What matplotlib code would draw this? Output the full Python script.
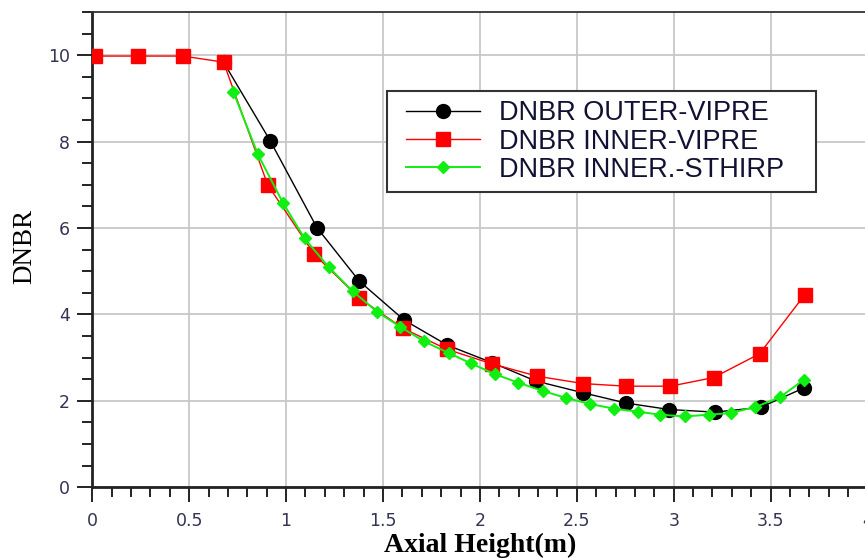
import matplotlib
matplotlib.use('Agg')
from matplotlib import pyplot as plt
from matplotlib.ticker import MultipleLocator
from matplotlib.lines import Line2D
from matplotlib.legend_handler import HandlerLine2D

# DNBR along the axial height
outer_x = [0.677, 0.918, 1.159, 1.378, 1.609, 1.832, 2.065,
           2.288, 2.530, 2.754, 2.977, 3.213, 3.448, 3.672]
outer_y = [9.84, 8.02, 6.01, 4.77, 3.87, 3.29, 2.88,
           2.46, 2.19, 1.95, 1.80, 1.74, 1.85, 2.30]

inner_x = [0.016, 0.234, 0.467, 0.677, 0.905, 1.146, 1.377, 1.603, 1.832, 2.060,
           2.297, 2.534, 2.754, 2.983, 3.206, 3.443, 3.675]
inner_y = [9.98, 9.98, 9.98, 9.84, 7.00, 5.39, 4.38, 3.68, 3.19, 2.86,
           2.57, 2.40, 2.34, 2.34, 2.54, 3.09, 4.45]

sthirp_x = [0.728, 0.854, 0.983, 1.095, 1.219, 1.343, 1.470, 1.587, 1.711, 1.838,
            1.953, 2.076, 2.199, 2.325, 2.443, 2.566, 2.692, 2.815, 2.931, 3.057,
            3.180, 3.295, 3.422, 3.547, 3.672]
sthirp_y = [9.15, 7.71, 6.59, 5.76, 5.10, 4.54, 4.06, 3.72, 3.38, 3.11,
            2.87, 2.62, 2.42, 2.23, 2.07, 1.93, 1.82, 1.75, 1.68, 1.64,
            1.68, 1.72, 1.86, 2.08, 2.49]

labels = ['DNBR OUTER-VIPRE', 'DNBR INNER-VIPRE', 'DNBR INNER.-STHIRP']

fig = plt.figure(figsize=(8.65, 5.58), dpi=100)
ax = fig.add_axes([0.1067, 0.1267, 0.8962, 0.8518])

ax.plot(outer_x, outer_y, color='black', lw=1.0, marker='o', ms=10,
        label=labels[0], zorder=3)
ax.plot(inner_x, inner_y, color='#ff0000', lw=1.0, marker='s', ms=10,
        label=labels[1], zorder=4)
ax.plot(sthirp_x, sthirp_y, color='#11ee11', lw=1.4, marker='D', ms=6,
        label=labels[2], zorder=5)

ax.set_xlim(0, 4)
ax.set_ylim(0, 11)
ax.xaxis.set_major_locator(MultipleLocator(0.5))
ax.xaxis.set_minor_locator(MultipleLocator(0.1))
ax.yaxis.set_major_locator(MultipleLocator(2))
ax.yaxis.set_minor_locator(MultipleLocator(0.5))
ax.xaxis.set_major_formatter(plt.FuncFormatter(lambda v, p: '%g' % v))

ax.grid(True, which='major', color='#c8c8c8', lw=1.3, zorder=0)
ax.set_axisbelow(True)

ax.tick_params(which='major', direction='out', length=11, width=1.4,
               color='#222222', labelsize=12.5, labelcolor='#333355')
ax.tick_params(which='minor', direction='out', length=7, width=1.4,
               color='#222222')
ax.tick_params(axis='x', which='major', pad=7)
ax.tick_params(axis='y', which='major', pad=5)
ax.tick_params(top=False, right=False)

for side in ['left', 'bottom']:
    ax.spines[side].set_linewidth(2.0)
    ax.spines[side].set_color('#222222')
for side in ['top', 'right']:
    ax.spines[side].set_linewidth(1.3)
    ax.spines[side].set_color('#333333')

ax.set_xlabel('Axial Height(m)', family='Liberation Serif', fontweight='bold',
              fontsize=20)
ax.set_ylabel('DNBR', family='Liberation Serif', fontsize=19.5)
ax.xaxis.set_label_coords(0.5, -0.095)
ax.yaxis.set_label_coords(-0.071, 0.507)

# legend: shift the handles right a little inside the box
leg = ax.legend([l + '   ' for l in labels], loc='upper left',
                bbox_to_anchor=(0.380, 0.834),
                prop={'family': 'Liberation Sans', 'size': 19.5},
                frameon=True, fancybox=False, framealpha=1, borderpad=0.35,
                labelspacing=0.08, handlelength=3.1, handletextpad=0.7,
                borderaxespad=0,
                handler_map={Line2D: HandlerLine2D(xpad=0.37)})
leg.get_frame().set_edgecolor('#333333')
leg.get_frame().set_linewidth(1.5)
for t in leg.get_texts():
    t.set_color('#111133')

fig.savefig('out.png', dpi=100)
